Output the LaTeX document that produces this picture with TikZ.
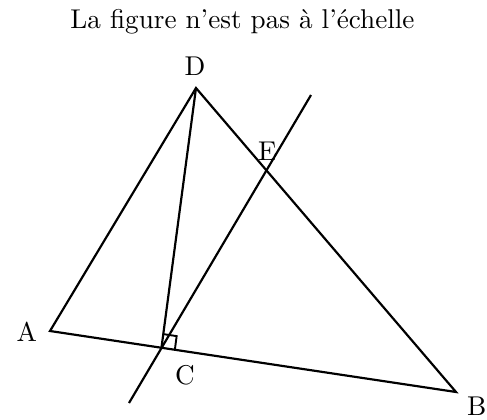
\documentclass[tikz,border=0pt]{standalone}
\usetikzlibrary{calc}
\tikzset{
  seg/.style={line width=0.8pt},
  ptlabel/.style={anchor=base, inner sep=0pt},
  note/.style={anchor=base, inner sep=0pt},
  rightangle/.style={line width=0.7pt},
}
\begin{document}
\begin{tikzpicture}[x=0.01294cm, y=-0.01294cm]
\useasboundingbox (0,0) rectangle (487,419);
\node[note] (titre) at (242.5,28.5) {La figure n'est pas à l'échelle};
% sommets du triangle
\coordinate (A) at (50,331);
\coordinate (B) at (456,392);
\coordinate (D) at (196,88);
\coordinate (C) at (161.5,347.5);
\coordinate (E) at (266,170.5);
% extremites de la droite passant par C et E
\coordinate (bas) at (129,403);
\coordinate (haut) at (311,95);
\draw[seg] (A) -- (B) -- (D) -- cycle;
\draw[seg] (D) -- (C);
\draw[seg] (bas) -- (haut);
% angle droit en C
\coordinate (Cb) at ($(C)!0.175cm!(B)$);
\coordinate (Cd) at ($(C)!0.175cm!(D)$);
\draw[rightangle] (Cb) -- ($(Cb)+(Cd)-(C)$) -- (Cd);
\node[ptlabel] (lA) at (26.7,341.7) {A};
\node[ptlabel] (lB) at (476.7,415) {B};
\node[ptlabel] (lC) at (185,384) {C};
\node[ptlabel] (lD) at (195,75.7) {D};
\node[ptlabel] (lE) at (267.3,160) {E};
\end{tikzpicture}
\end{document}
